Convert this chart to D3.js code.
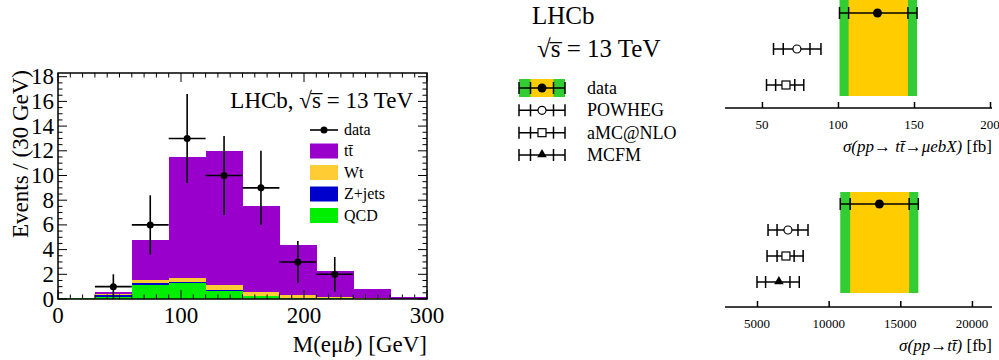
<!DOCTYPE html>
<html>
<head>
<meta charset="utf-8">
<script src="https://cdn.jsdelivr.net/npm/d3@7"></script>
<style>
  body { margin: 0; background: #fff; }
  svg text { font-family: "Liberation Serif", "Times New Roman", serif; fill: #000; }
</style>
</head>
<body>
<svg id="chart"></svg>
<script>
// histogram bins (30 GeV wide)
var binLow = [0, 30, 60, 90, 120, 150, 180, 210, 240, 270];
var qcd   = [0.05, 0.2, 1.15, 1.3, 0.67, 0.22, 0.1, 0.05, 0.03, 0.02];
var zjets = [0, 0.1, 0.15, 0.05, 0.02, 0.02, 0.01, 0, 0, 0];
var wt    = [0, 0.1, 0.2, 0.35, 0.48, 0.33, 0.2, 0.12, 0.05, 0.02];
var ttbar = [0, 0.2, 3.3, 9.8, 10.83, 6.93, 4.09, 2.08, 0.72, 0.16];

// data points
var dataX = [45, 75, 105, 135, 165, 195, 225];
var dataY = [1, 6, 13, 10, 9, 3, 2];
var dataLo = [0, 3.6, 9.4, 6.8, 6, 1.3, 0.6];
var dataHi = [2, 8.4, 16.6, 13.2, 12, 4.7, 3.4];

// cross-section panels: [centre, innerLo, innerHi, outerLo, outerHi]
var fidNames = ["data", "POWHEG", "aMC@NLO"];
var fidVals = [
  [126, 107, 146, 101, 152],
  [73, 64, 81.6, 57.6, 88.8],
  [65.8, 59, 71.6, 53, 77.5]
];
var fidTicks = [50, 100, 150, 200];

var totNames = ["data", "POWHEG", "aMC@NLO", "MCFM"];
var totVals = [
  [13540, 11500, 15620, 10810, 16260],
  [7160, 6400, 7860, 5770, 8560],
  [7020, 6400, 7590, 5700, 8220],
  [6530, 5600, 7300, 5000, 7950]
];
var totTicks = [5000, 10000, 15000, 20000];

var legNames = ["data", "POWHEG", "aMC@NLO", "MCFM"];

var W = 999, H = 360;
var svg = d3.select("#chart").attr("width", W).attr("height", H);

var colors = { qcd: "#00ee00", zjets: "#0000cc", wt: "#ffcc33", tt: "#9900cc" };
var green = "#33cc33", yellow = "#ffcc00";
var TBAR = "t\u0304";

// ---------------- left histogram ----------------
var fr = { left: 58, right: 427, top: 73, bottom: 299 };
var x = d3.scaleLinear().domain([0, 300]).range([fr.left, fr.right]);
var y = d3.scaleLinear().domain([0, 18.3]).range([fr.bottom, fr.top]);

var rows = binLow.map(function(b, i) {
  return { lo: b, qcd: qcd[i], zjets: zjets[i], wt: wt[i], tt: ttbar[i] };
});
var stack = d3.stack().keys(["qcd", "zjets", "wt", "tt"])(rows);

var hist = svg.append("g").attr("shape-rendering", "crispEdges");
stack.forEach(function(layer) {
  hist.selectAll(null)
    .data(layer)
    .enter().append("rect")
    .attr("x", function(d) { return x(d.data.lo); })
    .attr("width", function(d) { return x(d.data.lo + 30) - x(d.data.lo) + 0.6; })
    .attr("y", function(d) { return y(d[1]); })
    .attr("height", function(d) { return Math.max(0, y(d[0]) - y(d[1])); })
    .attr("fill", colors[layer.key]);
});

// data points with error bars
var pts = svg.append("g");
dataX.forEach(function(dx, i) {
  pts.append("line")
    .attr("x1", x(dx - 15)).attr("x2", x(dx + 15))
    .attr("y1", y(dataY[i])).attr("y2", y(dataY[i]))
    .attr("stroke", "#000").attr("stroke-width", 1.6);
  pts.append("line")
    .attr("x1", x(dx)).attr("x2", x(dx))
    .attr("y1", y(dataLo[i])).attr("y2", y(dataHi[i]))
    .attr("stroke", "#000").attr("stroke-width", 1.6);
  pts.append("circle")
    .attr("cx", x(dx)).attr("cy", y(dataY[i])).attr("r", 3.5);
});

// frame + ticks
svg.append("rect")
  .attr("x", fr.left).attr("y", fr.top)
  .attr("width", fr.right - fr.left).attr("height", fr.bottom - fr.top)
  .attr("fill", "none").attr("stroke", "#000").attr("stroke-width", 1.5);

var tk = svg.append("g").attr("stroke", "#000").attr("stroke-width", 1);
d3.range(0, 301, 10).forEach(function(v) {
  var len = v % 100 === 0 ? 9 : 4.5;
  tk.append("line").attr("x1", x(v)).attr("x2", x(v)).attr("y1", fr.bottom).attr("y2", fr.bottom - len);
  tk.append("line").attr("x1", x(v)).attr("x2", x(v)).attr("y1", fr.top).attr("y2", fr.top + len);
});
d3.range(0, 18.01, 0.5).forEach(function(v) {
  var len = v % 2 === 0 ? 9 : 4.5;
  tk.append("line").attr("y1", y(v)).attr("y2", y(v)).attr("x1", fr.left).attr("x2", fr.left + len);
  tk.append("line").attr("y1", y(v)).attr("y2", y(v)).attr("x1", fr.right).attr("x2", fr.right - len);
});

svg.append("g").selectAll("text")
  .data([0, 100, 200, 300]).enter().append("text")
  .attr("x", function(d) { return x(d); }).attr("y", 323)
  .attr("text-anchor", "middle").style("font-size", "23px")
  .text(function(d) { return d; });

svg.append("g").selectAll("text")
  .data(d3.range(0, 19, 2)).enter().append("text")
  .attr("x", 54).attr("y", function(d) { return y(d) + 7.5; })
  .attr("text-anchor", "end").style("font-size", "23px")
  .text(function(d) { return d; });

var xl = svg.append("text").attr("x", fr.right).attr("y", 352)
  .attr("text-anchor", "end").style("font-size", "23px");
xl.append("tspan").text("M(eμ");
xl.append("tspan").style("font-style", "italic").text("b");
xl.append("tspan").text(") [GeV]");

svg.append("text")
  .attr("transform", "translate(28," + (fr.top - 3) + ") rotate(-90)")
  .attr("text-anchor", "end").style("font-size", "23px")
  .text("Events / (30 GeV)");

svg.append("text").attr("x", 413).attr("y", 108)
  .attr("text-anchor", "end").style("font-size", "23px")
  .text("LHCb, \u221As\u0305 = 13 TeV");

// legend of histogram
var legH = [
  { label: "t" + TBAR, key: "tt" },
  { label: "Wt", key: "wt" },
  { label: "Z+jets", key: "zjets" },
  { label: "QCD", key: "qcd" }
];
var lg = svg.append("g");
lg.append("line").attr("x1", 310).attr("x2", 338).attr("y1", 130).attr("y2", 130)
  .attr("stroke", "#000").attr("stroke-width", 1.6);
lg.append("circle").attr("cx", 324).attr("cy", 130).attr("r", 3.5);
lg.append("text").attr("x", 344).attr("y", 135).style("font-size", "16px").text("data");
legH.forEach(function(d, i) {
  var cy = 151 + i * 21.5;
  lg.append("rect").attr("x", 310).attr("y", cy - 7.5).attr("width", 28).attr("height", 15)
    .attr("fill", colors[d.key]);
  lg.append("text").attr("x", 344).attr("y", cy + 5).style("font-size", "16px").text(d.label);
});

// ---------------- right panels ----------------
function errBar(g, xs, cy, v, col) {
  g.append("line")
    .attr("x1", xs(v[3])).attr("x2", xs(v[4])).attr("y1", cy).attr("y2", cy)
    .attr("stroke", col).attr("stroke-width", 1.5);
  [v[1], v[2], v[3], v[4]].forEach(function(c) {
    g.append("line")
      .attr("x1", xs(c)).attr("x2", xs(c)).attr("y1", cy - 6).attr("y2", cy + 6)
      .attr("stroke", col).attr("stroke-width", 1.5);
  });
}

function marker(g, cx, cy, name) {
  if (name === "data") {
    g.append("circle").attr("cx", cx).attr("cy", cy).attr("r", 4.5).attr("fill", "#000");
  } else if (name === "POWHEG") {
    g.append("circle").attr("cx", cx).attr("cy", cy).attr("r", 4)
      .attr("fill", "#fff").attr("stroke", "#000").attr("stroke-width", 1.2);
  } else if (name === "aMC@NLO") {
    g.append("rect").attr("x", cx - 4).attr("y", cy - 4).attr("width", 8).attr("height", 8)
      .attr("fill", "#fff").attr("stroke", "#000").attr("stroke-width", 1.2);
  } else {
    g.append("path").attr("d", d3.symbol().type(d3.symbolTriangle).size(40))
      .attr("transform", "translate(" + cx + "," + (cy - 0.5) + ")").attr("fill", "#000");
  }
}

function panel(opts) {
  var g = svg.append("g");
  var xs = d3.scaleLinear().domain(opts.domain).range([725, 992]);
  var ys = d3.scalePoint().domain(opts.names).range(opts.rowRange);
  var d0 = opts.vals[0];
  var bandTop = opts.rowRange[0] - opts.pad[0];
  var bandBot = opts.rowRange[1] + opts.pad[1];
  g.append("rect").attr("x", xs(d0[3])).attr("width", xs(d0[4]) - xs(d0[3]))
    .attr("y", bandTop).attr("height", bandBot - bandTop).attr("fill", green);
  g.append("rect").attr("x", xs(d0[1])).attr("width", xs(d0[2]) - xs(d0[1]))
    .attr("y", bandTop).attr("height", bandBot - bandTop).attr("fill", yellow);
  opts.names.forEach(function(n, i) {
    var v = opts.vals[i];
    errBar(g, xs, ys(n), v, "#000");
    marker(g, xs(v[0]), ys(n), n);
  });
  var ax = g.append("g").attr("transform", "translate(0," + opts.axisY + ")")
    .call(d3.axisTop(xs).tickValues(opts.ticks).tickSize(6).tickFormat(""));
  ax.select(".domain").attr("stroke-width", 1.5).attr("d", "M725,0H992");
  ax.selectAll(".tick line").attr("stroke-width", 1.5);
  g.selectAll(null).data(opts.ticks).enter().append("text")
    .attr("x", function(d) { return xs(d); }).attr("y", opts.axisY + 21)
    .attr("text-anchor", "middle").style("font-size", "13px")
    .text(function(d) { return d; });
  var t = g.append("text").attr("x", 992).attr("y", opts.axisY + 44)
    .attr("text-anchor", "end").style("font-size", "17px");
  t.append("tspan").style("font-style", "italic").text(opts.title);
  t.append("tspan").text(" [fb]");
}

panel({
  names: fidNames, vals: fidVals, ticks: fidTicks,
  domain: [25.7, 201.3], rowRange: [13, 85], pad: [14, 11], axisY: 108,
  title: "σ(pp→ t" + TBAR + "→μebX)"
});

panel({
  names: totNames, vals: totVals, ticks: totTicks,
  domain: [2767, 21400], rowRange: [204, 282], pad: [12, 11], axisY: 307,
  title: "σ(pp→t" + TBAR + ")"
});

// legend of the cross-section panels
svg.append("text").attr("x", 532).attr("y", 24).style("font-size", "25px").text("LHCb");
svg.append("text").attr("x", 537).attr("y", 57).style("font-size", "25px")
  .text("\u221As\u0305 = 13 TeV");

var lx = d3.scaleLinear().domain([0, 4]).range([519, 565]);
var ly = d3.scalePoint().domain(legNames).range([88, 155]);
var lgr = svg.append("g");
lgr.append("rect").attr("x", lx(0)).attr("y", ly("data") - 9).attr("width", lx(4) - lx(0)).attr("height", 18)
  .attr("fill", green);
lgr.append("rect").attr("x", lx(1)).attr("y", ly("data") - 9).attr("width", lx(3) - lx(1)).attr("height", 18)
  .attr("fill", yellow);
legNames.forEach(function(n) {
  errBar(lgr, lx, ly(n), [2, 1, 3, 0, 4], "#000");
  marker(lgr, lx(2), ly(n), n);
  lgr.append("text").attr("x", 587).attr("y", ly(n) + 6).style("font-size", "18px").text(n);
});
</script>
</body>
</html>
